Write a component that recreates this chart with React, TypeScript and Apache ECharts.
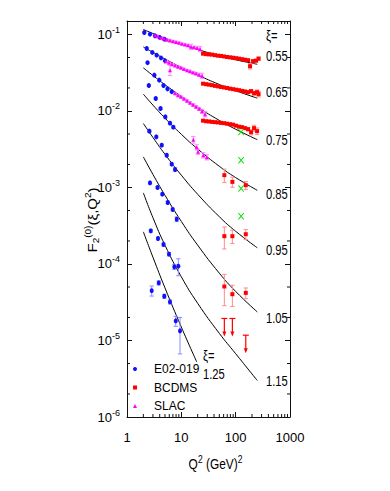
import React, { useEffect, useRef } from 'react';
import * as echarts from 'echarts';

const FONT = "'Liberation Sans', Arial, 'DejaVu Sans', sans-serif";
const AXIS_COLOR = '#111';
const NARROW = 0.8;

// axis ticks
const xMin = 1;
const xMax = 1000;
const yMin = 1e-6;
const yMax = 0.15;
const xMinorTicks = [2, 3, 4, 5, 6, 7, 8, 9, 20, 30, 40, 50, 60, 70, 80, 90, 200, 300, 400, 500, 600, 700, 800, 900];
const yMinorTicks = [2e-6, 5e-6, 2e-5, 5e-5, 2e-4, 5e-4, 2e-3, 5e-3, 2e-2, 5e-2];

// xi labels at the right side
const xiLabels = ['0.55', '0.65', '0.75', '0.85', '0.95', '1.05', '1.15'];
const xiLabelY = [56.7, 92.5, 140.7, 194.7, 250.8, 318.3, 381.7];

// curves (Q2 grid and F2 values)
const curveQ2 = [2, 3, 5, 10, 20, 50, 100, 250];
const curve055 = [0.1162, 0.103, 0.0894, 0.0749, 0.0637, 0.0528, 0.0467, 0.0408];
const curve065 = [0.0688, 0.0583, 0.0478, 0.0371, 0.0295, 0.0222, 0.0184, 0.01472];
const curve075 = [0.0366, 0.0291, 0.02203, 0.01552, 0.01118, 0.007536, 0.005773, 0.004214];
const curve085 = [0.01658, 0.01194, 0.008076, 0.00496, 0.003186, 0.001893, 0.001347, 0.000919];
const curve095 = [0.006866, 0.00451, 0.002716, 0.001448, 0.000815, 0.000415, 0.0002676, 0.0001628];
const curve105 = [0.002512, 0.001482, 0.000791, 0.00036, 0.000176, 7.59e-5, 4.38e-5, 2.36e-5];
const curve115 = [0.00085, 0.000403, 0.000176, 6.8e-5, 3.06e-5, 1.24e-5, 6.72e-6, 3.0e-6];
const curve125Q2 = [2, 3, 5, 10, 19.2];
const curve125 = [0.000263, 0.0001227, 4.87e-5, 1.497e-5, 5.25e-6];

// E02-019: [Q2, F2, relative error]
const e02_055 = [[2.08, 0.1062, 0.02], [2.65, 0.1009, 0.02], [3.28, 0.0959, 0.02], [4.0, 0.0914, 0.02], [4.86, 0.0868, 0.02]];
const e02_065 = [[2.31, 0.0656, 0.02], [2.92, 0.0582, 0.02], [3.52, 0.0536, 0.02], [4.23, 0.0494, 0.02], [5.01, 0.0452, 0.02]];
const e02_075 = [[2.39, 0.0428, 0.02], [3.18, 0.0294, 0.02], [3.92, 0.0253, 0.02], [4.7, 0.02155, 0.02], [5.57, 0.01945, 0.02], [6.66, 0.01788, 0.02]];
const e02_085 = [[2.52, 0.02155, 0.03], [3.38, 0.01457, 0.03], [4.14, 0.01078, 0.03], [5.07, 0.00837, 0.03], [6.19, 0.00693, 0.03], [7.12, 0.00614, 0.03]];
const e02_095 = [[2.58, 0.00545, 0.03], [3.46, 0.00459, 0.03], [4.36, 0.00357, 0.03], [5.38, 0.00264, 0.03], [6.66, 0.002016, 0.03], [7.66, 0.00172, 0.05]];
const e02_105 = [[2.65, 0.001148, 0.03], [3.65, 0.001, 0.03], [4.47, 0.000818, 0.03], [5.62, 0.000637, 0.04], [6.94, 0.000516, 0.04], [8.23, 0.000385, 0.07]];
const e02_115 = [[2.74, 0.000271, 0.04], [3.72, 0.0002155, 0.04], [4.7, 0.0001799, 0.04], [5.93, 0.0001343, 0.05], [7.43, 9.17e-5, 0.07], [8.81, 9.36e-5, 0.25]];
const e02_125 = [[2.85, 4.48e-5, 0.15], [3.84, 5.66e-5, 0.06], [4.86, 3.79e-5, 0.06], [6.19, 3.197e-5, 0.06], [7.89, 1.804e-5, 0.15], [9.46, 1.335e-5, 0.5]];

// BCDMS: [Q2, F2, relative error]
const bcdms_055 = [[25.1, 0.0561, 0.015], [28.5, 0.0553, 0.015], [32.4, 0.0549, 0.015], [36.8, 0.0545, 0.015], [41.7, 0.0536, 0.015], [47.4, 0.0528, 0.015], [53.8, 0.0524, 0.015], [61.1, 0.0516, 0.015], [69.4, 0.0508, 0.015], [78.9, 0.0502, 0.015], [89.6, 0.0497, 0.015], [101.7, 0.049, 0.015], [115.5, 0.0483, 0.02], [131.2, 0.0475, 0.02], [149, 0.0468, 0.02], [169.2, 0.0461, 0.025], [184.1, 0.0385, 0.08], [209.1, 0.0448, 0.05], [237.5, 0.0455, 0.04], [264, 0.0483, 0.05]];
const bcdms_065 = [[25.1, 0.02275, 0.015], [28.5, 0.0224, 0.015], [32.4, 0.02208, 0.015], [36.8, 0.02175, 0.015], [41.7, 0.02129, 0.015], [47.4, 0.02097, 0.015], [53.8, 0.0206, 0.015], [61.1, 0.02029, 0.015], [69.4, 0.01998, 0.015], [78.9, 0.01956, 0.015], [89.6, 0.01928, 0.02], [101.7, 0.01899, 0.02], [115.5, 0.0187, 0.02], [131.2, 0.01831, 0.025], [149, 0.01798, 0.03], [169.2, 0.01761, 0.04], [192.1, 0.01815, 0.05], [218.2, 0.01709, 0.06], [247.9, 0.01761, 0.07], [264, 0.01658, 0.08]];
const bcdms_075 = [[25.1, 0.00747, 0.015], [28.5, 0.00735, 0.015], [32.4, 0.00729, 0.015], [36.8, 0.0072, 0.015], [41.7, 0.00714, 0.015], [47.4, 0.00708, 0.015], [53.8, 0.00699, 0.015], [61.1, 0.00693, 0.02], [69.4, 0.00682, 0.02], [78.9, 0.00672, 0.02], [89.6, 0.00662, 0.025], [101.7, 0.00642, 0.025], [115.5, 0.00623, 0.03], [131.2, 0.00614, 0.03], [149, 0.00596, 0.04], [169.2, 0.00578, 0.05], [192.1, 0.00528, 0.08], [218.2, 0.00596, 0.09], [247.9, 0.00545, 0.1]];
const bcdms_085 = [[61.9, 0.001448, 0.2], [87.0, 0.001184, 0.15], [153.5, 0.001072, 0.12]];
const bcdms_095 = [[61.9, 0.000231, 0.32], [87.0, 0.000231, 0.2], [153.5, 0.000245, 0.15]];
const bcdms_105 = [[61.9, 5.08e-5, 0.44], [87.0, 4.03e-5, 0.31], [153.5, 4.19e-5, 0.16]];
// BCDMS upper limits (xi = 1.15)
const bcdms_115_limits = [[61.9, 1.94e-5], [87.0, 1.94e-5], [153.5, 1.173e-5]];

// SLAC: [Q2, F2, relative error]
const slac_055 = [[3.28, 0.0979, 0.02], [3.72, 0.095, 0.02], [4.23, 0.0908, 0.02], [4.8, 0.0886, 0.02], [5.45, 0.0855, 0.02], [6.19, 0.0835, 0.02], [7.03, 0.0818, 0.02], [7.99, 0.0798, 0.02], [9.07, 0.0781, 0.02], [10.3, 0.0758, 0.02], [11.7, 0.074, 0.02], [13.29, 0.0725, 0.02], [15.09, 0.0692, 0.08], [17.13, 0.0682, 0.03], [19.46, 0.0668, 0.03], [22.1, 0.0648, 0.08]];
const slac_065 = [[5.23, 0.0448, 0.02], [5.93, 0.0428, 0.02], [6.19, 0.0341, 0.15], [6.74, 0.0409, 0.02], [7.66, 0.0393, 0.02], [8.7, 0.0379, 0.02], [9.87, 0.0368, 0.02], [11.21, 0.0355, 0.02], [12.74, 0.0341, 0.02], [14.46, 0.0331, 0.03], [16.43, 0.0319, 0.03], [18.65, 0.0309, 0.03], [21.18, 0.0298, 0.04], [24.06, 0.0288, 0.08]];
const slac_075 = [[7.66, 0.01709, 0.02], [8.7, 0.0161, 0.02], [9.87, 0.01538, 0.02], [11.21, 0.01448, 0.02], [12.74, 0.01363, 0.03], [14.46, 0.01284, 0.03], [16.43, 0.01209, 0.03], [18.65, 0.01138, 0.03], [21.18, 0.01072, 0.04], [24.06, 0.00994, 0.06], [27.3, 0.00908, 0.08]];
const slac_085 = [[16.6, 0.00421, 0.1], [19.2, 0.00336, 0.08], [20.3, 0.002938, 0.08], [25.4, 0.00264, 0.08], [29.4, 0.00249, 0.08]];

// other data (green crosses)
const crossPoints = [[125.8, 0.00533], [125.8, 0.002274], [125.8, 0.00097], [125.8, 0.000421]];

const e02All = [...e02_055, ...e02_065, ...e02_075, ...e02_085, ...e02_095, ...e02_105, ...e02_115, ...e02_125];
const bcdmsAll = [...bcdms_055, ...bcdms_065, ...bcdms_075, ...bcdms_085, ...bcdms_095, ...bcdms_105];
const slacAll = [...slac_055, ...slac_065, ...slac_075, ...slac_085];

const curves = [curve055, curve065, curve075, curve085, curve095, curve105, curve115];

function errData(rows: number[][]) {
  return rows.map((r) => [r[0], r[1] * (1 - r[2]), r[1] * (1 + r[2])]);
}

function errSeries(name: string, rows: number[][], color: string) {
  return {
    type: 'custom',
    name: name + ' errors',
    data: errData(rows),
    encode: { x: 0, y: [1, 2] },
    silent: true,
    z: 3,
    clip: true,
    renderItem: (params: any, api: any) => {
      const x = api.value(0);
      const p1 = api.coord([x, api.value(1)]);
      const p2 = api.coord([x, api.value(2)]);
      const w = 2.2;
      const st = { stroke: color, lineWidth: 1 };
      return {
        type: 'group',
        children: [
          { type: 'line', shape: { x1: p1[0], y1: p1[1], x2: p2[0], y2: p2[1] }, style: st },
          { type: 'line', shape: { x1: p1[0] - w, y1: p1[1], x2: p1[0] + w, y2: p1[1] }, style: st },
          { type: 'line', shape: { x1: p2[0] - w, y1: p2[1], x2: p2[0] + w, y2: p2[1] }, style: st },
        ],
      };
    },
  };
}

function yLabel(v: number) {
  const e = Math.log10(v);
  const r = Math.round(e);
  if (Math.abs(e - r) > 1e-6) return '';
  return '{b|10}{s|' + r + '}';
}

function narrowText(text: string, x: number, y: number, size: number) {
  return {
    type: 'text',
    x,
    y,
    scaleX: NARROW,
    style: {
      text,
      fill: '#000',
      fontFamily: FONT,
      fontSize: size,
      align: 'left',
      verticalAlign: 'middle',
      textAlign: 'left',
      textVerticalAlign: 'middle',
    },
  };
}

const App: React.FC = () => {
  const ref = useRef<HTMLDivElement>(null);

  useEffect(() => {
    if (!ref.current) return;
    const chart = echarts.init(ref.current, undefined, { renderer: 'svg' });

    const lineSeries: any[] = curves.map((c, i) => ({
      type: 'line',
      name: 'fit ' + xiLabels[i],
      data: curveQ2.map((q, j) => [q, c[j]]),
      showSymbol: false,
      smooth: 0.5,
      lineStyle: { color: '#000', width: 1 },
      itemStyle: { color: '#000' },
      silent: true,
      z: 2,
    }));
    lineSeries.push({
      type: 'line',
      name: 'fit 1.25',
      data: curve125Q2.map((q, j) => [q, curve125[j]]),
      showSymbol: false,
      smooth: 0.5,
      lineStyle: { color: '#000', width: 1 },
      itemStyle: { color: '#000' },
      silent: true,
      z: 2,
    });

    const axisCommon = {
      type: 'log',
      logBase: 10,
      axisLine: { show: true, lineStyle: { color: AXIS_COLOR, width: 1 } },
      axisTick: { show: true, inside: true, length: 5, lineStyle: { color: AXIS_COLOR, width: 1 } },
      splitLine: { show: false },
      minorTick: { show: false },
    };

    const option: any = {
      animation: false,
      backgroundColor: '#fff',
      grid: { left: 127, top: 21, right: 100, bottom: 74, containLabel: false },
      xAxis: [
        {
          ...axisCommon,
          position: 'bottom',
          min: xMin,
          max: xMax,
          axisLabel: {
            show: true,
            margin: 14,
            fontFamily: FONT,
            fontSize: 13,
            color: '#000',
            showMinLabel: true,
            showMaxLabel: true,
            formatter: (v: number) => String(Math.round(v)),
          },
        },
        {
          ...axisCommon,
          position: 'top',
          min: xMin,
          max: xMax,
          axisLabel: { show: false },
        },
      ],
      yAxis: [
        {
          ...axisCommon,
          position: 'left',
          min: yMin,
          max: yMax,
          splitNumber: 6,
          axisLabel: {
            show: true,
            margin: 7,
            showMinLabel: true,
            showMaxLabel: true,
            formatter: yLabel,
            rich: {
              b: { fontFamily: FONT, fontSize: 13, color: '#000', lineHeight: 18 },
              s: { fontFamily: FONT, fontSize: 9, color: '#000', verticalAlign: 'top', lineHeight: 10 },
            },
          },
        },
        {
          ...axisCommon,
          position: 'right',
          min: yMin,
          max: yMax,
          splitNumber: 6,
          axisLabel: { show: false },
        },
      ],
      legend: {
        data: [
          { name: 'E02-019', icon: 'circle' },
          { name: 'BCDMS', icon: 'rect' },
          { name: 'SLAC', icon: 'triangle' },
        ],
        orient: 'vertical',
        left: 133,
        top: 362,
        padding: 0,
        itemWidth: 4,
        itemHeight: 4,
        itemGap: 4.5,
        selectedMode: false,
        textStyle: { fontFamily: FONT, fontSize: 12, color: '#000', lineHeight: 14, padding: [0, 0, 0, 12] },
      },
      graphic: [
        {
          type: 'text',
          x: 92,
          y: 220,
          rotation: Math.PI / 2,
          scaleX: 1,
          scaleY: 0.85,
          style: {
            text: 'F{sub|2}{sup|(0)}(ξ,Q{sup|2})',
            align: 'center',
            verticalAlign: 'middle',
            textAlign: 'center',
            textVerticalAlign: 'middle',
            fill: '#000',
            fontFamily: FONT,
            fontSize: 15,
            rich: {
              sub: { fontFamily: FONT, fontSize: 10, verticalAlign: 'bottom', lineHeight: 20 },
              sup: { fontFamily: FONT, fontSize: 10, verticalAlign: 'top', lineHeight: 20 },
            },
          },
        },
        {
          type: 'text',
          x: 215.5,
          y: 464,
          scaleX: 0.85,
          style: {
            text: 'Q{sup|2} (GeV){sup|2}',
            align: 'center',
            verticalAlign: 'middle',
            textAlign: 'center',
            textVerticalAlign: 'middle',
            fill: '#000',
            fontFamily: FONT,
            fontSize: 14,
            rich: {
              sup: { fontFamily: FONT, fontSize: 10, verticalAlign: 'top', lineHeight: 18 },
            },
          },
        },
        narrowText('ξ=', 266, 36.7, 14),
        ...xiLabels.map((t, i) => narrowText(t, 266, xiLabelY[i], 14)),
        narrowText('ξ=', 203, 356.7, 14),
        narrowText('1.25', 203, 375, 14),
      ],
      series: [
        ...lineSeries,
        errSeries('E02-019', e02All, '#8c8cff'),
        errSeries('BCDMS', bcdmsAll, '#ff8c8c'),
        errSeries('SLAC', slacAll, '#ff8cff'),
        {
          type: 'scatter',
          name: 'E02-019',
          data: e02All.map((r) => [r[0], r[1]]),
          symbol: 'circle',
          symbolSize: [4, 5],
          itemStyle: { color: '#1010ff', opacity: 1 },
          z: 5,
          silent: true,
        },
        {
          type: 'scatter',
          name: 'BCDMS',
          data: bcdmsAll.map((r) => [r[0], r[1]]),
          symbol: 'rect',
          symbolSize: 4,
          itemStyle: { color: '#ff0000', opacity: 1 },
          z: 5,
          silent: true,
        },
        {
          type: 'scatter',
          name: 'SLAC',
          data: slacAll.map((r) => [r[0], r[1]]),
          symbol: 'triangle',
          symbolSize: 4,
          itemStyle: { color: '#ff00ff', opacity: 1 },
          z: 5,
          silent: true,
        },
        {
          type: 'scatter',
          name: 'other',
          data: crossPoints,
          symbol: 'path://M0,1 L1,0 L5,4 L9,0 L10,1 L6,5 L10,9 L9,10 L5,6 L1,10 L0,9 L4,5 Z',
          symbolSize: [6, 7],
          itemStyle: { color: '#00e000', opacity: 1 },
          z: 5,
          silent: true,
        },
        {
          type: 'custom',
          name: 'BCDMS limits',
          data: bcdms_115_limits,
          encode: { x: 0, y: 1 },
          silent: true,
          z: 5,
          renderItem: (params: any, api: any) => {
            const p = api.coord([api.value(0), api.value(1)]);
            const len = 18;
            const hw = 3;
            const st = { stroke: '#ff0000', lineWidth: 1.2 };
            return {
              type: 'group',
              children: [
                { type: 'line', shape: { x1: p[0] - hw, y1: p[1], x2: p[0] + hw, y2: p[1] }, style: st },
                { type: 'line', shape: { x1: p[0], y1: p[1], x2: p[0], y2: p[1] + len - 4 }, style: st },
                {
                  type: 'polygon',
                  shape: { points: [[p[0] - 2, p[1] + len - 5], [p[0] + 2, p[1] + len - 5], [p[0], p[1] + len]] },
                  style: { fill: '#ff0000' },
                },
              ],
            };
          },
        },
        {
          type: 'custom',
          name: 'minor ticks',
          data: [[10, 0.001]],
          encode: { x: 0, y: 1 },
          silent: true,
          clip: false,
          z: 6,
          renderItem: (params: any, api: any) => {
            const cs = params.coordSys;
            const st = { stroke: AXIS_COLOR, lineWidth: 1 };
            const children: any[] = [];
            const b = cs.y + cs.height;
            const r = cs.x + cs.width;
            xMinorTicks.forEach((v) => {
              const px = api.coord([v, 0.001])[0];
              children.push({ type: 'line', shape: { x1: px, y1: b, x2: px, y2: b - 3 }, style: st });
              children.push({ type: 'line', shape: { x1: px, y1: cs.y, x2: px, y2: cs.y + 3 }, style: st });
            });
            yMinorTicks.forEach((v) => {
              const py = api.coord([10, v])[1];
              children.push({ type: 'line', shape: { x1: cs.x, y1: py, x2: cs.x + 3, y2: py }, style: st });
              children.push({ type: 'line', shape: { x1: r, y1: py, x2: r - 3, y2: py }, style: st });
            });
            return { type: 'group', children };
          },
        },
      ],
    };

    chart.setOption(option);
    return () => {
      chart.dispose();
    };
  }, []);

  return (
    <div
      ref={ref}
      style={{ position: 'absolute', left: 0, top: 0, width: 390, height: 491, background: '#fff' }}
    />
  );
};

export default App;
